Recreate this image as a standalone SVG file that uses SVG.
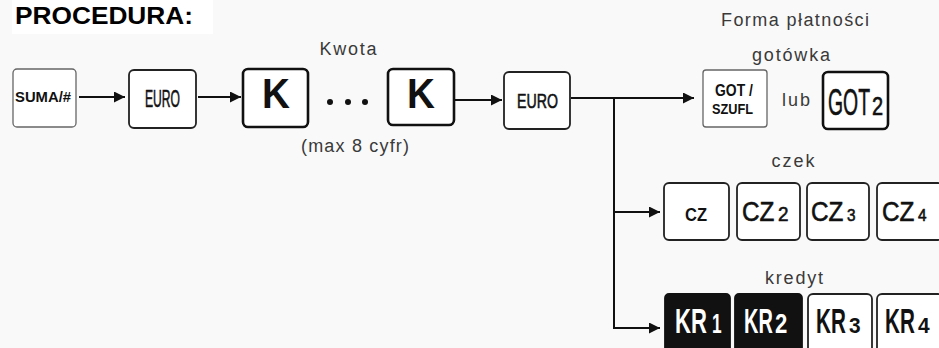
<svg xmlns="http://www.w3.org/2000/svg" width="939" height="348" viewBox="0 0 939 348">
<defs>
<marker id="ah" viewBox="0 0 10 10" refX="10" refY="5" markerWidth="11" markerHeight="11" markerUnits="userSpaceOnUse" orient="auto">
<path d="M0,0 L10,5 L0,10 z" fill="#111"/>
</marker>
<style>
.bg{fill:#f9f9f9}
.key{fill:#fff;stroke:#222;stroke-width:1.8}
.thin{fill:#fff;stroke:#666;stroke-width:1.3}
.thick{fill:#fff;stroke:#111;stroke-width:2.6}
.dark{fill:#111;stroke:#111;stroke-width:1.8}
.conn{fill:none;stroke:#111;stroke-width:2}
.lbl{font-family:"Liberation Sans",Arial,sans-serif;font-size:18px;fill:#3a3a3a;text-anchor:middle}
.kt{font-family:"Liberation Sans",Arial,sans-serif;font-weight:bold;fill:#111}
.kn{font-family:"Liberation Sans",Arial,sans-serif;fill:#111;stroke:#111;stroke-width:0.6}
.wt{font-family:"Liberation Sans",Arial,sans-serif;font-weight:bold;fill:#fff}
</style>
</defs>
<rect class="bg" x="0" y="0" width="939" height="348"/>
<rect x="12" y="0" width="201" height="34" fill="#fff"/>
<text x="15" y="24" font-family="Liberation Sans,Arial,sans-serif" font-weight="bold" font-size="23" textLength="178" lengthAdjust="spacingAndGlyphs" fill="#000">PROCEDURA:</text>

<text class="lbl" x="348" y="55" textLength="57">Kwota</text>
<text class="lbl" x="355" y="152" textLength="108">(max 8 cyfr)</text>
<text class="lbl" x="795" y="26" textLength="148">Forma płatności</text>
<text class="lbl" x="791" y="61" textLength="78">gotówka</text>
<text class="lbl" x="793" y="167" textLength="43">czek</text>
<text class="lbl" x="794" y="284" textLength="58">kredyt</text>
<text class="lbl" x="796" y="106" textLength="28">lub</text>

<g id="connectors">
<line class="conn" x1="79" y1="97" x2="125" y2="97" marker-end="url(#ah)"/>
<line class="conn" x1="198" y1="97" x2="241" y2="97" marker-end="url(#ah)"/>
<line class="conn" x1="455" y1="100" x2="502" y2="100" marker-end="url(#ah)"/>
<line class="conn" x1="571" y1="98" x2="694" y2="98" marker-end="url(#ah)"/>
<polyline class="conn" points="614,98 614,328 660,328" marker-end="url(#ah)"/>
<line class="conn" x1="614" y1="212" x2="660" y2="212" marker-end="url(#ah)"/>
</g>

<g id="dots" fill="#111">
<circle cx="330" cy="102" r="3"/>
<circle cx="348" cy="102" r="3"/>
<circle cx="365" cy="102" r="3"/>
</g>

<g id="suma">
<rect class="thin" x="13" y="69" width="63" height="58" rx="4"/>
<text class="kt" x="15" y="102" font-size="15" textLength="56" lengthAdjust="spacingAndGlyphs">SUMA/#</text>
</g>
<g id="euro1">
<rect class="key" x="129" y="70" width="67" height="58" rx="5"/>
<text class="kn" transform="translate(145,107) scale(0.527,1)" font-size="23">EURO</text>
</g>
<g id="k1">
<rect class="thick" x="243" y="69" width="65" height="58" rx="5"/>
<text class="kt" transform="translate(262,108) scale(0.92,1)" font-size="42">K</text>
</g>
<g id="k2">
<rect class="thick" x="388" y="69" width="66" height="56" rx="5"/>
<text class="kt" transform="translate(407,108) scale(0.92,1)" font-size="42">K</text>
</g>
<g id="euro2">
<rect class="key" x="504" y="72" width="66" height="57" rx="5"/>
<text class="kn" transform="translate(517,108) scale(0.675,1)" font-size="21">EURO</text>
</g>
<g id="got">
<rect class="thin" x="703" y="70" width="64" height="57" rx="3"/>
<text class="kt" transform="translate(715,96) scale(0.82,1)" font-size="17">GOT /</text>
<text class="kt" transform="translate(712,114) scale(0.85,1)" font-size="15">SZUFL</text>
</g>
<g id="got2">
<rect class="thick" x="823" y="72" width="65" height="57" rx="5"/>
<text class="kn" transform="translate(828,115) scale(0.525,1)" font-size="37">GOT</text>
<text class="kn" transform="translate(872,115) scale(0.8,1)" font-size="25">2</text>
</g>
<g id="cz1">
<rect class="key" x="664" y="183" width="65" height="57" rx="5"/>
<text class="kt" transform="translate(685,221) scale(0.87,1)" font-size="19">CZ</text>
</g>
<g id="cz2">
<rect class="key" x="737" y="183" width="63" height="57" rx="5"/>
<text class="kn" transform="translate(742,221) scale(0.9,1)" font-size="27">CZ</text>
<text class="kn" transform="translate(778,221) scale(0.9,1)" font-size="21">2</text>
</g>
<g id="cz3">
<rect class="key" x="807" y="183" width="62" height="57" rx="5"/>
<text class="kn" transform="translate(811,221) scale(0.9,1)" font-size="27">CZ</text>
<text class="kn" transform="translate(847,221) scale(0.9,1)" font-size="17">3</text>
</g>
<g id="cz4">
<rect class="key" x="877" y="183" width="66" height="57" rx="5"/>
<text class="kn" transform="translate(882,221) scale(0.9,1)" font-size="27">CZ</text>
<text class="kn" transform="translate(918,221) scale(0.9,1)" font-size="17">4</text>
</g>
<g id="kr1">
<rect class="dark" x="665" y="294" width="65" height="60" rx="4"/>
<text class="wt" transform="translate(675,333) scale(0.63,1)" font-size="35">KR</text>
<text class="wt" transform="translate(712,333) scale(0.64,1)" font-size="27">1</text>
</g>
<g id="kr2">
<rect class="dark" x="735" y="294" width="67" height="60" rx="4"/>
<text class="wt" transform="translate(744,333) scale(0.57,1)" font-size="35">KR</text>
<text class="wt" transform="translate(775,333) scale(0.82,1)" font-size="27">2</text>
</g>
<g id="kr3">
<rect class="key" x="808" y="294" width="64" height="60" rx="5"/>
<text class="kt" transform="translate(816,333) scale(0.59,1)" font-size="35">KR</text>
<text class="kt" transform="translate(849,333) scale(0.95,1)" font-size="22">3</text>
</g>
<g id="kr4">
<rect class="key" x="877" y="294" width="66" height="60" rx="5"/>
<text class="kt" transform="translate(885,333) scale(0.59,1)" font-size="35">KR</text>
<text class="kt" transform="translate(918,333) scale(0.95,1)" font-size="22">4</text>
</g>
</svg>
